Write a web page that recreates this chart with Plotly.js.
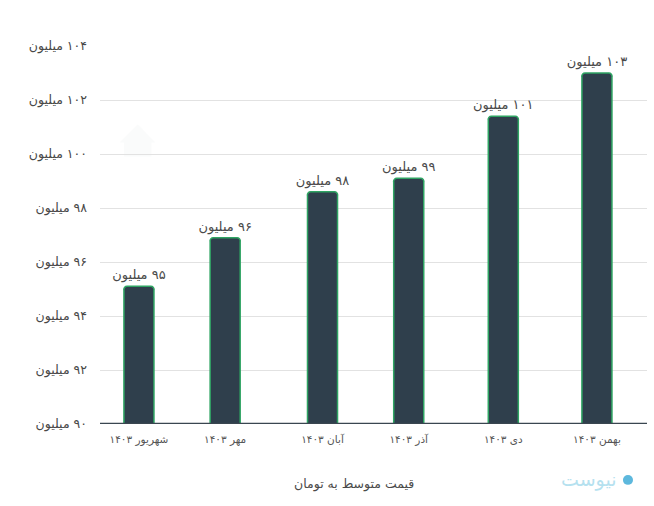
<!DOCTYPE html>
<html><head><meta charset="utf-8">
<script src="https://cdn.plot.ly/plotly-3.0.1.min.js"></script>
<style>html,body{margin:0;padding:0;background:#fff}</style></head>
<body><div id="chart" style="width:654px;height:506px"></div>
<script>
const months = ["شهریور ۱۴۰۳","مهر ۱۴۰۳","آبان ۱۴۰۳","آذر ۱۴۰۳","دی ۱۴۰۳","بهمن ۱۴۰۳"];
const monthSlots = [0, 0.93, 1.98, 2.91, 3.93, 4.94];
const prices = [95.1, 96.9, 98.6, 99.1, 101.4, 103.0];
const priceLabels = ["۹۵ میلیون","۹۶ میلیون","۹۸ میلیون","۹۹ میلیون","۱۰۱ میلیون","۱۰۳ میلیون"];
const yTicks = [90,92,94,96,98,100,102,104];
const yTickLabels = ["۹۰ میلیون","۹۲ میلیون","۹۴ میلیون","۹۶ میلیون","۹۸ میلیون","۱۰۰ میلیون","۱۰۲ میلیون","۱۰۴ میلیون"];
const axisTitle = "قیمت متوسط به تومان";
const brand = "نیوست";
const RLM = "\u200F";
const FONT = '"DejaVu Sans","Noto Sans",sans-serif';

Plotly.newPlot('chart', [{
  type:'bar', x:monthSlots, y:prices, width:0.324,
  text:priceLabels.map(s=>RLM+s), textposition:'outside', cliponaxis:false, constraintext:'none',
  textangle:0,
  textfont:{family:FONT,size:13,color:'#4a4a4a'},
  marker:{color:'#2f3f4c',line:{color:'#2fa463',width:1.5},cornerradius:4},
  hoverinfo:'skip'
}],{
  width:654,height:506,autosize:false,showlegend:false,
  paper_bgcolor:'#fff',plot_bgcolor:'#fff',
  margin:{l:100,r:7,t:46,b:82,pad:0},
  font:{family:FONT,color:'#444'},
  bargap:0,
  xaxis:{range:[-0.42,5.48],tickvals:monthSlots,ticktext:months,showgrid:false,zeroline:false,
    showline:false,ticks:'',tickfont:{size:10.5,color:'#555'},ticklabelstandoff:7},
  yaxis:{range:[90,104],tickvals:yTicks,ticktext:yTickLabels.map(s=>RLM+s),
    showgrid:true,gridcolor:'#e2e2e2',gridwidth:1,zeroline:false,showline:false,ticks:'',
    tickfont:{size:12.5,color:'#484848'},ticklabelstandoff:12},
  shapes:[
    {type:'line',xref:'paper',yref:'y',x0:0,x1:1,y0:90,y1:90,line:{color:'#3a4650',width:2.5},layer:'above'},
    {type:'circle',xref:'paper',yref:'paper',x0:0.956,x1:0.9744,y0:-0.161,y1:-0.135,fillcolor:'#5db8dd',line:{width:0}},
    {type:'path',xref:'paper',yref:'paper',layer:'below',line:{width:0},fillcolor:'#fafbfb',
     path:'M 0.036 0.745 L 0.069 0.792 L 0.101 0.745 L 0.094 0.745 L 0.094 0.708 L 0.044 0.708 L 0.044 0.745 Z'}
  ],
  annotations:[
   {xref:'paper',yref:'paper',x:0.893,y:-0.148,xanchor:'center',yanchor:'middle',text:brand,showarrow:false,
    font:{family:FONT,size:19,color:'#b5e1ef'}},
   {xref:'paper',yref:'paper',x:0.464,y:-0.159,xanchor:'center',yanchor:'middle',text:axisTitle,showarrow:false,
    font:{family:FONT,size:12.5,color:'#4a4a4a'}}
  ]
},{displayModeBar:false,staticPlot:true});
</script></body></html>
